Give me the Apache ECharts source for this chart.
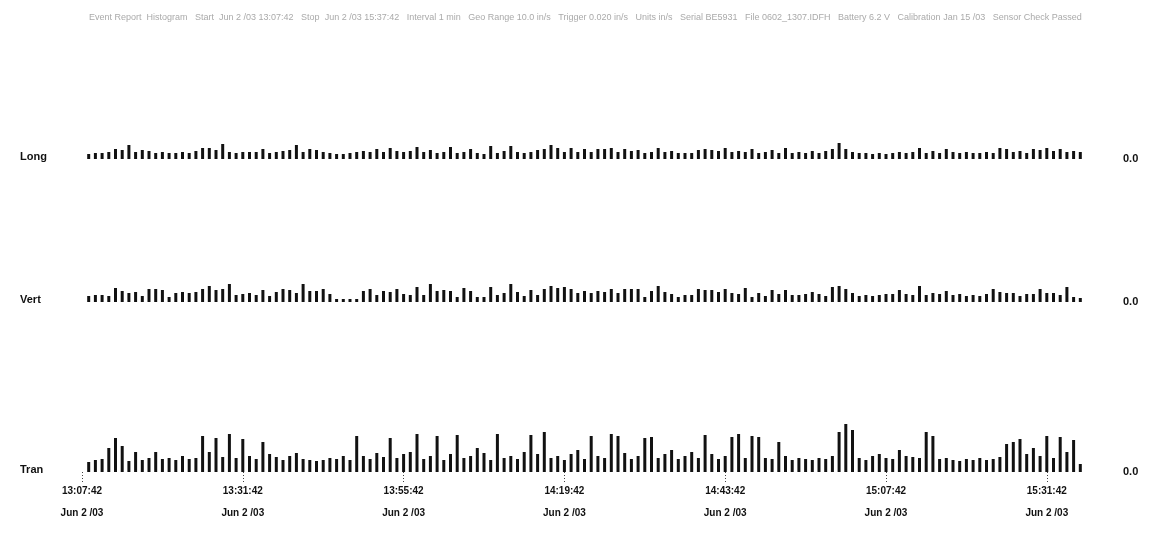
<!DOCTYPE html>
<html>
<head>
<meta charset="utf-8">
<title>Histogram</title>
<script src="https://cdn.jsdelivr.net/npm/echarts@6/dist/echarts.min.js"></script>
<style>
html, body { margin: 0; padding: 0; background: #fff; }
#chart { width: 1153px; height: 559px; }
</style>
</head>
<body>
<div id="chart"></div>
<script>
// channels, top to bottom
var channels = ['Long', 'Vert', 'Tran'];
// one bar per minute, first one a minute after 13:07:42 (axis value = seconds after 13:07:42)
var firstBarSec = 60;
var barStepSec = 60;
var tickLabels = ['13:07:42', '13:31:42', '13:55:42', '14:19:42', '14:43:42', '15:07:42', '15:31:42'];
var tickDate = 'Jun 2 /03';
var headerText = 'Event Report  Histogram   Start  Jun 2 /03 13:07:42   Stop  Jun 2 /03 15:37:42   Interval 1 min   Geo Range 10.0 in/s   Trigger 0.020 in/s   Units in/s   Serial BE5931   File 0602_1307.IDFH   Battery 6.2 V   Calibration Jan 15 /03   Sensor Check Passed';

// peak values per interval (x 0.001 in/s)
var longVals = [5,6,6,7,10,9,14,7,9,8,
  6,7,6,6,7,6,8,11,11,9,
  15,7,6,7,7,7,10,6,7,8,
  9,14,7,10,9,7,6,5,5,6,
  7,8,7,10,7,11,8,7,8,12,
  7,9,6,7,12,6,7,10,6,5,
  13,6,8,13,7,6,7,9,10,14,
  11,7,11,7,10,7,10,10,11,7,
  10,8,9,6,7,11,7,8,6,6,
  6,9,10,9,8,11,7,8,7,10,
  6,7,9,6,11,6,7,6,8,6,
  8,10,16,10,7,6,6,5,6,5,
  6,7,6,7,11,6,8,6,10,7,
  6,7,6,6,7,6,11,10,7,8,
  6,10,9,11,8,10,7,8,7];
var vertVals = [6,7,7,6,14,11,9,10,6,13,
  13,12,5,9,10,9,10,13,16,12,
  13,18,7,8,9,7,12,6,10,13,
  12,9,18,11,11,13,8,3,3,3,
  3,11,13,7,11,10,13,8,7,15,
  7,18,11,12,11,5,14,11,5,5,
  15,7,9,18,10,6,12,7,13,16,
  14,15,13,9,11,9,11,10,13,9,
  13,13,13,5,11,16,10,8,5,7,
  7,13,12,12,10,13,9,8,14,5,
  9,6,12,8,12,7,7,8,10,8,
  6,15,16,13,9,6,7,6,7,8,
  8,12,8,7,16,7,9,8,11,7,
  8,6,7,6,8,13,10,9,9,6,
  8,8,13,9,9,7,15,5,4];
var tranVals = [10,12,13,24,34,26,11,20,12,14,
  20,13,14,12,16,13,14,36,20,34,
  15,38,14,33,16,13,30,18,15,12,
  16,19,13,12,11,12,14,13,16,12,
  36,16,13,19,15,34,14,18,20,38,
  13,16,36,12,18,37,14,16,24,19,
  12,38,14,16,13,20,37,18,40,14,
  16,12,18,22,13,36,16,14,38,36,
  19,13,16,34,35,14,18,22,13,16,
  20,14,37,18,13,16,35,38,14,36,
  35,14,13,30,16,12,14,13,12,14,
  13,16,40,48,42,14,12,16,18,14,
  13,22,16,15,14,40,36,13,14,12,
  11,13,12,14,12,13,15,28,30,33,
  18,24,16,36,14,35,20,32,8];

var allVals = [longVals, vertVals, tranVals];
var baselines = [159, 302, 472];
var rowHeight = 60;
var font = 'Arial, "Liberation Sans", sans-serif';

function pairs(vals) {
  var out = [];
  for (var i = 0; i < vals.length; i++) {
    out.push([firstBarSec + i * barStepSec, vals[i]]);
  }
  return out;
}

var grid = [], xAxis = [], yAxis = [], series = [], graphic = [];
for (var r = 0; r < channels.length; r++) {
  var last = r == channels.length - 1;
  grid.push({ left: 82, right: 66, top: baselines[r] - rowHeight, height: rowHeight });
  xAxis.push({
    type: 'value', gridIndex: r, min: 0, max: 9000, interval: 1440,
    axisLine: { show: false },
    splitLine: { show: false },
    axisTick: { show: last, length: 12, lineStyle: { color: '#444', type: [1, 2] } },
    axisLabel: {
      show: last, showMaxLabel: false, margin: 8,
      fontFamily: font, fontSize: 10, fontWeight: 'bold', color: '#111', lineHeight: 22,
      formatter: function (v) { return tickLabels[Math.round(v / 1440)] + '\n' + tickDate; }
    }
  });
  yAxis.push({
    type: 'value', gridIndex: r, min: 0, max: rowHeight, interval: rowHeight, position: 'right',
    axisLine: { show: false }, axisTick: { show: false }, splitLine: { show: false },
    axisLabel: {
      margin: 36, fontFamily: font, fontSize: 11, fontWeight: 'bold', color: '#111',
      formatter: function (v) { return v == 0 ? '0.0' : ''; }
    }
  });
  series.push({
    type: 'bar', xAxisIndex: r, yAxisIndex: r, barWidth: 3,
    itemStyle: { color: '#111' },
    data: pairs(allVals[r])
  });
  graphic.push({
    type: 'text', left: 20, top: baselines[r] - 8,
    style: { text: channels[r], font: 'bold 11px ' + font, fill: '#111' }
  });
}
graphic.push({
  type: 'text', left: 89, top: 13,
  style: { text: headerText, font: '9px ' + font, fill: '#aaaaaa' }
});

var chart = echarts.init(document.getElementById('chart'));
chart.setOption({
  animation: false,
  grid: grid,
  xAxis: xAxis,
  yAxis: yAxis,
  series: series,
  graphic: graphic
});
</script>
</body>
</html>
